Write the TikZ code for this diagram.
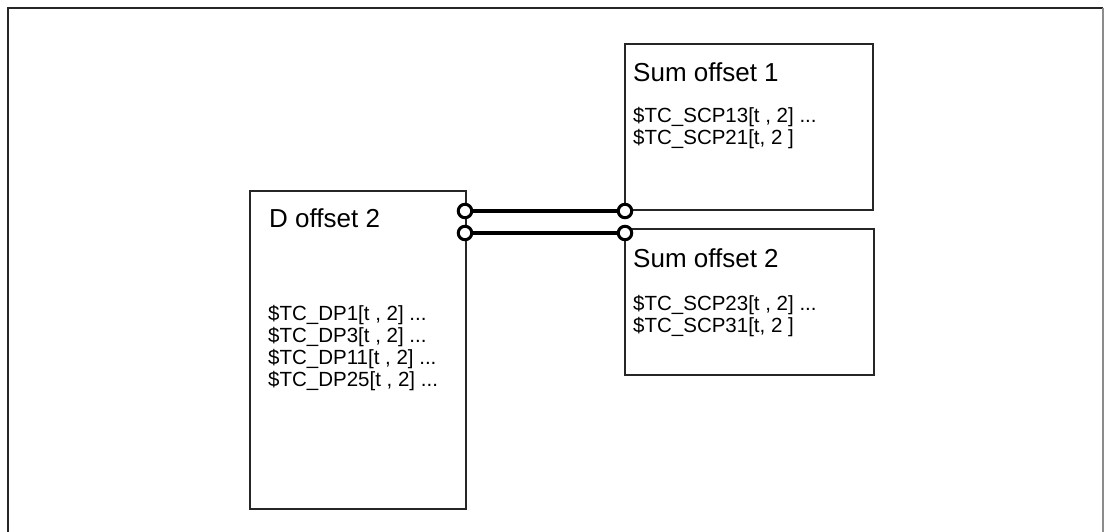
\documentclass[tikz,border=0pt]{standalone}
\usepackage{fontspec}
\setmainfont{Liberation Sans}
\usetikzlibrary{positioning}

\tikzset{
  box/.style={draw=black!85,line width=1.4pt,inner sep=0pt},
  head/.style={anchor=base west,inner sep=0pt,font=\fontsize{26}{30}\selectfont},
  par/.style={anchor=base west,inner sep=0pt,font=\fontsize{20.5}{22}\selectfont},
  ring/.style={circle,draw=black,line width=3pt,fill=white,inner sep=0pt,minimum size=13.5pt},
  link/.style={line width=3.6pt,black}
}

\begin{document}
\begin{tikzpicture}[x=1pt,y=-1pt]
      \useasboundingbox (0,0) rectangle (1104,532);
      % frame
      \draw[line width=1.8pt,black!85] (8,532) -- (8,8) -- (1103,8);
      \draw[line width=1.8pt,black!45] (1103,8) -- (1103,532);
      % boxes
      \node[box,minimum width=216pt,minimum height=318pt] (doff) at (358,350) {};
      \node[box,minimum width=248pt,minimum height=166pt] (sum1) at (749,127) {};
      \node[box,minimum width=249pt,minimum height=146pt] (sum2) at (749.5,302) {};
      % texts
      \node[head] (dhead) at (269,227) {D offset 2};
      \node[par] (dp1) at (268,320) {\$TC\_DP1[t , 2] ...};
      \node[par] (dp3) at (268,342) {\$TC\_DP3[t , 2] ...};
      \node[par] (dp11) at (268,364) {\$TC\_DP11[t , 2] ...};
      \node[par] (dp25) at (268,386) {\$TC\_DP25[t , 2] ...};
      \node[head] (s1head) at (633,82) {Sum offset 1};
      \node[par] (scp13) at (633,123) {\$TC\_SCP13[t , 2] ...};
      \node[par] (scp21) at (633,145) {\$TC\_SCP21[t, 2 ]};
      \node[head] (s2head) at (633,267) {Sum offset 2};
      \node[par] (scp23) at (633,310) {\$TC\_SCP23[t , 2] ...};
      \node[par] (scp31) at (633,332) {\$TC\_SCP31[t, 2 ]};
      % connection points
      \coordinate (a1) at (465,211); \coordinate (a2) at (465,233);
      \coordinate (b1) at (625,211); \coordinate (b2) at (625,233);
      \draw[link] (a1) -- (b1); \draw[link] (a2) -- (b2);
      \node[ring] (ra1) at (a1) {}; \node[ring] (ra2) at (a2) {};
      \node[ring] (rb1) at (b1) {}; \node[ring] (rb2) at (b2) {};
    \end{tikzpicture}
\end{document}
